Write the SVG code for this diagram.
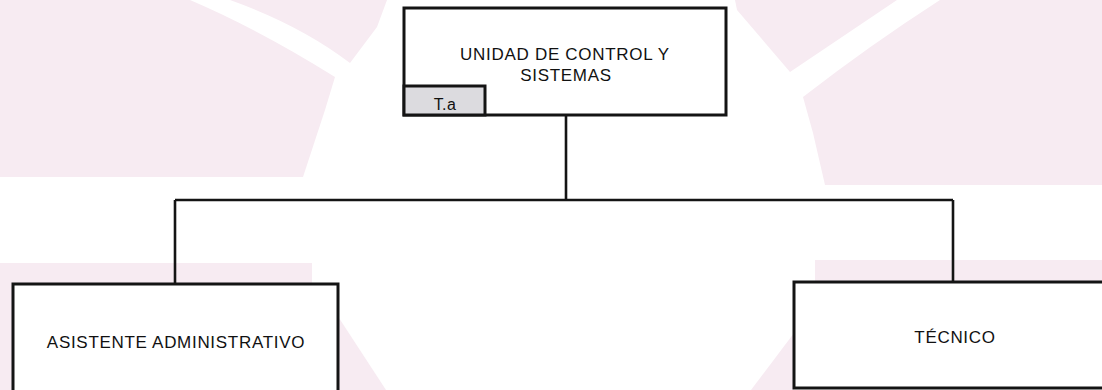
<svg xmlns="http://www.w3.org/2000/svg" width="1102" height="390" viewBox="0 0 1102 390">
  <style>
    .wm { fill: #f7ebf2; stroke: none; }
    .box { fill: #ffffff; stroke: #141414; stroke-width: 3; }
    .tab { fill: #dcdbdf; stroke: #141414; stroke-width: 3; }
    .conn { fill: none; stroke: #141414; stroke-width: 2.6; }
    .lbl { font-family: "Liberation Sans", Arial, sans-serif; font-size: 17px; fill: #111111; letter-spacing: 0.7px; text-anchor: middle; }
    .tabl { font-family: "Liberation Sans", Arial, sans-serif; font-size: 16px; fill: #111111; letter-spacing: 0.4px; text-anchor: middle; }
  </style>
  <rect width="1102" height="390" fill="#ffffff"/>
  <g id="watermark">
    <path class="wm" d="M0 0 H190 Q260 30 335 77 L325 110 L303 177 H0 Z"/>
    <path class="wm" d="M230 0 H387 L377 27 L350 63 Q300 25 230 0 Z"/>
    <path class="wm" d="M735 0 H897 Q845 35 790 72 L737 10 Z"/>
    <path class="wm" d="M940 0 H1102 V185 H825 L813 133 L803 97 Q870 45 940 0 Z"/>
    <path class="wm" d="M0 263 H312 V286 H13 V390 H0 Z"/>
    <path class="wm" d="M339 318 L386 390 H339 Z"/>
    <path class="wm" d="M815 260 H1102 V284 H815 Z"/>
    <path class="wm" d="M751 390 L794 333 V390 Z"/>
  </g>
  <g id="connectors">
    <path class="conn" d="M566 115 V200"/>
    <path class="conn" d="M175 200 H953"/>
    <path class="conn" d="M175 200 V284"/>
    <path class="conn" d="M953 200 V282"/>
  </g>
  <g id="node-unidad">
    <rect class="box" x="404" y="8" width="322" height="107"/>
    <text class="lbl" x="565" y="60">UNIDAD DE CONTROL Y</text>
    <text class="lbl" x="566" y="81">SISTEMAS</text>
    <g id="tag-ta">
      <rect class="tab" x="404" y="86" width="81" height="29"/>
      <text class="tabl" x="445" y="110">T.a</text>
    </g>
  </g>
  <g id="node-asistente">
    <rect class="box" x="13" y="284" width="325" height="112"/>
    <text class="lbl" x="176" y="348">ASISTENTE ADMINISTRATIVO</text>
  </g>
  <g id="node-tecnico">
    <rect class="box" x="794" y="282" width="340" height="106"/>
    <text class="lbl" x="955" y="343">TÉCNICO</text>
  </g>
</svg>
